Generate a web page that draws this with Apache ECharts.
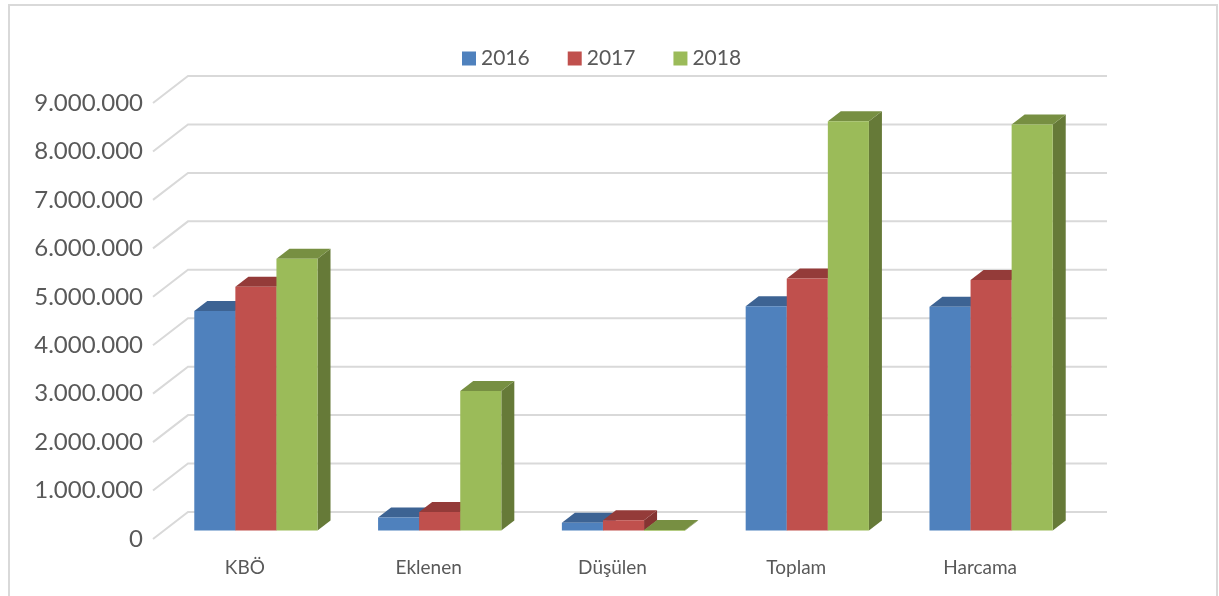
<!DOCTYPE html>
<html>
<head>
<meta charset="utf-8">
<script src="https://cdn.jsdelivr.net/npm/echarts@6/dist/echarts.min.js"></script>
<style>
  html, body { margin: 0; padding: 0; background: #fff; }
  #chart { width: 1219px; height: 596px; }
</style>
</head>
<body>
<div id="chart"></div>
<script>
const categories = ['KBÖ', 'Eklenen', 'Düşülen', 'Toplam', 'Harcama']
const seriesNames = ['2016', '2017', '2018']
const values2016 = [4530000, 270000, 160000, 4630000, 4620000]
const values2017 = [5030000, 380000, 210000, 5200000, 5170000]
const values2018 = [5610000, 2880000, 10000, 8450000, 8380000]
const yTicks = [0, 1000000, 2000000, 3000000, 4000000, 5000000, 6000000, 7000000, 8000000, 9000000]

// front / top / side face colours for each year
const faceColors = [
  { front: '#4F81BD', top: '#3D6393', side: '#355884' },
  { front: '#C0504D', top: '#943B39', side: '#853432' },
  { front: '#9BBB59', top: '#778F42', side: '#667A38' }
]

// oblique depth of the floor and of the bars
const FLOOR_DX = 35
const FLOOR_DY = 27
const BAR_DX = 13
const BAR_DY = 10
const BAR_OFF_X = (FLOOR_DX - BAR_DX) / 2
const BAR_OFF_Y = (FLOOR_DY - BAR_DY) / 2

const formatNumber = (v) => String(v).replace(/\B(?=(\d{3})+(?!\d))/g, '.')

const chart = echarts.init(document.getElementById('chart'))

function gridLineRender (params, api) {
  const cs = params.coordSys
  const y = api.coord([0, api.value(1)])[1]
  return {
    type: 'polyline',
    shape: {
      points: [
        [cs.x, y],
        [cs.x + FLOOR_DX, y - FLOOR_DY],
        [cs.x + cs.width + FLOOR_DX, y - FLOOR_DY]
      ]
    },
    style: { stroke: '#d9d9d9', lineWidth: 2, fill: null },
    silent: true
  }
}

function barRender (s) {
  return function (params, api) {
    const cat = api.value(0)
    const base = api.coord([cat, 0])
    const top = api.coord([cat, api.value(1)])
    const band = api.size([1, 0])[0]
    const w = band * 0.2235
    const x0 = base[0] + (s - 1.5) * w + BAR_OFF_X
    const yb = base[1] - BAR_OFF_Y
    const yt = top[1] - BAR_OFF_Y
    const c = faceColors[s]
    return {
      type: 'group',
      children: [
        {
          type: 'polygon',
          shape: { points: [[x0 + w, yt], [x0 + w + BAR_DX, yt - BAR_DY], [x0 + w + BAR_DX, yb - BAR_DY], [x0 + w, yb]] },
          style: { fill: c.side }
        },
        {
          type: 'polygon',
          shape: { points: [[x0, yt], [x0 + w, yt], [x0 + w + BAR_DX, yt - BAR_DY], [x0 + BAR_DX, yt - BAR_DY]] },
          style: { fill: c.top }
        },
        {
          type: 'rect',
          shape: { x: x0, y: yt, width: w, height: Math.max(yb - yt, 0.8) },
          style: { fill: c.front }
        }
      ]
    }
  }
}

const yearData = [values2016, values2017, values2018]

const option = {
  animation: false,
  textStyle: { fontFamily: 'Lato, "Open Sans", sans-serif' },
  graphic: [
    {
      type: 'rect',
      shape: { x: 9, y: 5, width: 1208, height: 600 },
      style: { fill: null, stroke: '#d9d9d9', lineWidth: 2 },
      silent: true
    }
  ],
  legend: {
    data: seriesNames,
    left: 457,
    top: 43,
    itemWidth: 14,
    itemHeight: 14,
    itemGap: 38,
    icon: 'rect',
    textStyle: { fontSize: 21, color: '#595959', fontFamily: 'Lato, sans-serif' }
  },
  grid: { left: 153, right: 147, top: 103, bottom: 57 },
  xAxis: {
    type: 'category',
    data: categories,
    axisLine: { show: false },
    axisTick: { show: false },
    axisLabel: { fontSize: 19, color: '#595959', margin: 19 }
  },
  yAxis: {
    type: 'value',
    min: 0,
    max: 9000000,
    interval: 1000000,
    axisLine: { show: false },
    axisTick: { show: false },
    splitLine: { show: false },
    axisLabel: { fontSize: 24, color: '#595959', margin: 10, formatter: formatNumber }
  },
  series: [
    {
      type: 'custom',
      name: 'grid',
      renderItem: gridLineRender,
      data: yTicks.map((v) => [0, v]),
      encode: { x: 0, y: 1 },
      silent: true,
      z: 1
    }
  ].concat(seriesNames.map((name, s) => ({
    type: 'custom',
    name: name,
    renderItem: barRender(s),
    itemStyle: { color: faceColors[s].front },
    data: yearData[s].map((v, i) => [i, v]),
    encode: { x: 0, y: 1 },
    z: 2
  })))
}

chart.setOption(option)
</script>
</body>
</html>
